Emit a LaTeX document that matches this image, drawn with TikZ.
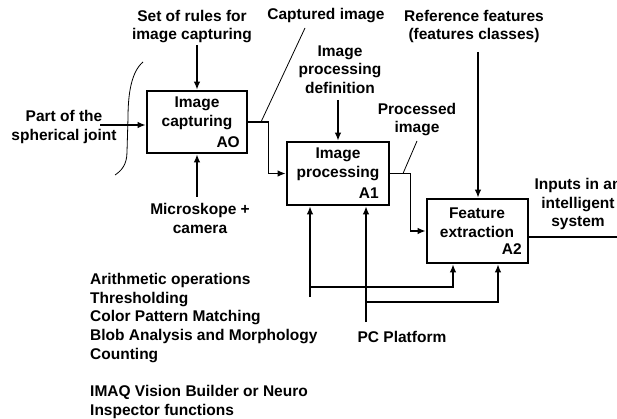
\documentclass[tikz,border=0pt]{standalone}
\usepackage{fontspec}
\setmainfont{Liberation Sans}
\usetikzlibrary{positioning,arrows.meta}

\tikzset{
  >={Latex[length=8pt,width=6.5pt]},
  procbox/.style={draw, line width=2.8pt, minimum width=100pt, minimum height=62pt, inner sep=0pt},
  lbl/.style={font=\bfseries\fontsize{15.5}{18.7}\selectfont, align=center, inner sep=0pt},
  link/.style={line width=1.2pt},
  leader/.style={line width=0.8pt},
}

\begin{document}
\begin{tikzpicture}[x=1pt,y=-1pt]
    \useasboundingbox (0,0) rectangle (617,419);
    % activity boxes
    \node[procbox] (a0) at (197,122) {};
    \node[procbox, minimum width=102pt, minimum height=63pt] (a1) at (338,173.5) {};
    \node[procbox, minimum width=101pt, minimum height=64pt] (a2) at (477.5,231) {};
    \node[lbl] (a0t) at (197,113) {Image\\capturing};
    \node[lbl, anchor=east] (a0n) at (240,142) {AO};
    \node[lbl] (a1t) at (338,164) {Image\\processing};
    \node[lbl, anchor=east] (a1n) at (379,193) {A1};
    \node[lbl] (a2t) at (477,222.5) {Feature\\extraction};
    \node[lbl, anchor=east] (a2n) at (522,249) {A2};
    % labels
    \node[lbl] (rules) at (192,26.5) {Set of rules for\\image capturing};
    \node[lbl] (captured) at (326,16) {Captured image};
    \node[lbl] (ipdef) at (340,69.5) {Image\\processing\\definition};
    \node[lbl] (processed) at (417,119.5) {Processed\\image};
    \node[lbl] (reffeat) at (474,26.5) {Reference features\\(features classes)};
    \node[lbl] (inputs) at (578,204) {Inputs in an\\intelligent\\system};
    \node[lbl] (joint) at (64,127) {Part of the\\spherical joint};
    \node[lbl] (micro) at (200,218.5) {Microskope +\\camera};
    \node[lbl] (pc) at (402,337) {PC Platform};
    \node[lbl, align=left, anchor=north west] (funcs) at (90,273) {Arithmetic operations\\Thresholding\\Color Pattern Matching\\Blob Analysis and Morphology\\Counting\\[18.7pt]IMAQ Vision Builder or Neuro\\Inspector functions};
    % brace on the input side
    \draw[leader] (143,62) .. controls (131,72) and (128,95) .. (128,118) -- (127,152) .. controls (127,165) and (121,171) .. (115,175);
    % inputs and controls
    \coordinate (jointin) at (100,125);
    \draw[link,->] (jointin) -- (jointin -| a0.west);
    \draw[link,->] (197,45) -- (a0.north);
    \draw[link,->] (197,197) -- (a0.south);
    \draw[link,->] (a0.east) -- ++(20,0) |- (a1.west);
    \draw[link,->] (338,100) -- (a1.north);
    \draw[link,->] (a1.east) -- ++(20,0) |- (a2.west);
    \draw[link,->] (478,52) -- (478,0 |- a2.north);
    \coordinate (out) at (528,237);
    \draw[link] (out) -- (617,237);
    % leaders
    \draw[leader] (305,28) -- (261,122);
    \draw[leader] (417,141) -- (403,173.5);
    % mechanisms
    \coordinate (m1) at (310,297);
    \coordinate (m2) at (366,322);
    \draw[link,->] (m1) -- (m1 |- a1.south);
    \draw[link,->] (m2) -- (m2 |- a1.south);
    \coordinate (f1) at (453,287);
    \coordinate (f2) at (498,302);
    \draw[link,->] (f1 -| m1) -- (f1) -- (f1 |- a2.south);
    \draw[link,->] (f2 -| m2) -- (f2) -- (f2 |- a2.south);
\end{tikzpicture}
\end{document}
